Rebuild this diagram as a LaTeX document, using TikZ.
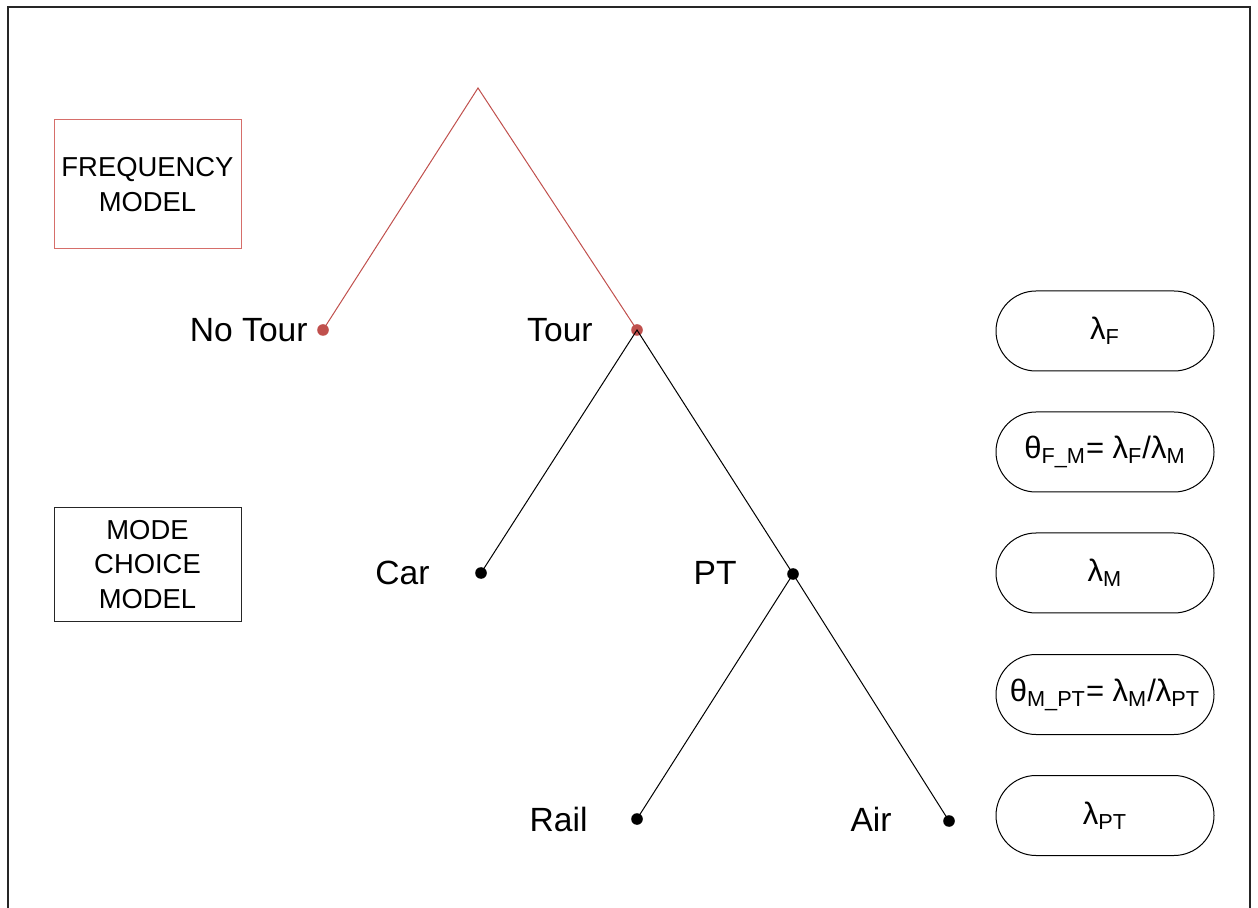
\documentclass[tikz,border=0pt]{standalone}
\usepackage{fontspec}
\setmainfont{Liberation Sans}
\begin{document}
\begin{tikzpicture}[x=0.5pt,y=-0.5pt,
  lbl/.style={inner sep=0pt,anchor=east,font=\fontsize{16.8pt}{19pt}\selectfont},
  modelbox/.style={draw,line width=0.5pt,minimum width=93.5pt,align=center,inner sep=0pt,font=\fontsize{13.7pt}{17.2pt}\selectfont},
  parbox/.style={draw,line width=0.5pt,rounded corners=20pt,minimum width=109pt,minimum height=40pt,inner sep=0pt,font=\fontsize{15.5pt}{18pt}\selectfont},
  dot/.style={circle,inner sep=0pt,minimum size=5.8pt},
  link/.style={line width=0.5pt}]
\definecolor{tred}{RGB}{192,80,77}
\definecolor{bred}{RGB}{214,110,106}
\useasboundingbox (0,0) rectangle (1258,908);
\draw[line width=1pt,black!85] (7.5,908) -- (7.5,7.5) -- (1250,7.5) -- (1250,908);
% nodes
\coordinate (apex) at (478,88);
\node[dot,fill=tred] (notour) at (323,330) {};
\node[dot,fill=tred] (tour) at (637,330) {};
\node[dot,fill=black] (car) at (481,573) {};
\node[dot,fill=black] (pt) at (793,574) {};
\node[dot,fill=black] (rail) at (637,819) {};
\node[dot,fill=black] (air) at (949,821) {};
% connectors
\draw[link,draw=tred] (notour.center) -- (apex) -- (tour.center);
\draw[link] (car.center) -- (tour.center) -- (pt.center);
\draw[link] (rail.center) -- (pt.center) -- (air.center);
% labels
\node[lbl] (lnotour) at (308,330) {No Tour};
\node[lbl] (ltour) at (593,330) {Tour};
\node[lbl] (lcar) at (430,573) {Car};
\node[lbl] (lpt) at (737,573) {PT};
\node[lbl] (lrail) at (588,819) {Rail};
\node[lbl] (lair) at (892,819) {Air};
% model boxes
\node[modelbox,draw=bred,minimum height=64.5pt] (freq) at (147.5,184.5) {FREQUENCY\\MODEL};
\node[modelbox,draw=black!85,minimum height=56.5pt] (mode) at (147.5,564.5) {MODE\\CHOICE\\MODEL};
% parameter boxes
\node[parbox] (p1) at (1105,331) {λ\textsubscript{F}};
\node[parbox] (p2) at (1105,452) {θ\textsubscript{F\_M}= λ\textsubscript{F}/λ\textsubscript{M}};
\node[parbox] (p3) at (1105,573) {λ\textsubscript{M}};
\node[parbox] (p4) at (1105,694.5) {θ\textsubscript{M\_PT}= λ\textsubscript{M}/λ\textsubscript{PT}};
\node[parbox] (p5) at (1105,815.5) {λ\textsubscript{PT}};
\end{tikzpicture}
\end{document}
